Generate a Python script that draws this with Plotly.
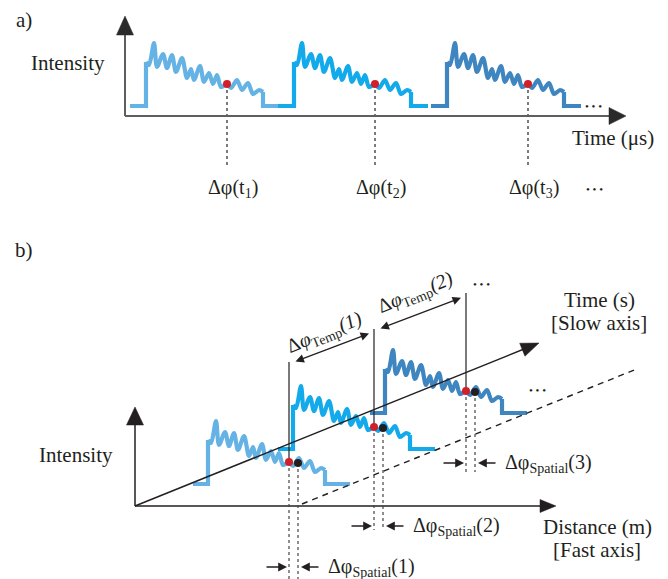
import math
import plotly.graph_objects as go

# ------------------------------------------------------------------
# Data
# ------------------------------------------------------------------
# one backscattered pulse: time inside the pulse (px-units) and intensity
pulse_t = [0, 3, 8, 11, 17, 21, 26, 30, 36, 41, 45, 48, 54, 58, 63, 67, 71, 75,
           81, 85, 91, 96, 102, 107, 113, 117]
pulse_I = [44, 41, 63, 39, 52, 38, 51, 34, 48, 28, 37, 26, 40, 24, 33, 22, 31, 19,
           22, 18, 26, 16, 23, 12, 16, 14]
# phase sampling points on the pulse (reference point, and shifted point)
ref_t, ref_I = 81, 22
shift_t, shift_I = 90, 21

pulse_names = ["Pulse 1", "Pulse 2", "Pulse 3"]
a_labels = ["Δφ(t<sub>1</sub>)", "Δφ(t<sub>2</sub>)", "Δφ(t<sub>3</sub>)"]
temp_labels = ["Δ<i>φ</i><sub>Temp</sub><i>(1)</i>", "Δ<i>φ</i><sub>Temp</sub><i>(2)</i>"]
spatial_labels = ["Δφ<sub>Spatial</sub>(1)", "Δφ<sub>Spatial</sub>(2)", "Δφ<sub>Spatial</sub>(3)"]

# ------------------------------------------------------------------
# Layout geometry / styles
# ------------------------------------------------------------------
W, H = 668, 579
FONT = "Liberation Serif, Times New Roman, serif"
TXT = "#231f20"
pulse_colors = ["#65b2e5", "#12aaea", "#3f86c0"]
RED = "#d0202a"
BLK = "#231f20"

# panel a)
A_ORIGIN = (125, 116)
A_XTIP, A_YTIP = 626, 16
A_RISE_X = [146, 294, 447]
A_BASE_Y = 106
A_LEAD, A_TRAIL = 16, 134
A_DOT_BOTTOM = 165
A_LABEL_Y = 188

# panel b)
B_ORIGIN = (135, 506)
B_ITIP = (135, 407)
B_DTIP = (556, 506)
B_TTIP = (539, 343)
B_RISE_X = [208, 293, 385]
B_BASE_Y = [484, 449, 413]
B_LEAD, B_TRAIL = 15, 142
B_VTOP = [362, 329, 293]
B_DOT_BOTTOM = [579, 530, 472]
B_SPATIAL_Y = [567, 526, 463]
B_TEMP_LABEL = [(324, 333), (415, 293)]

fig = go.Figure()
shapes = []
annotations = []


def line(xs, ys, color, width, dash=None, shape="linear"):
    fig.add_trace(go.Scatter(x=xs, y=ys, mode="lines",
                             line=dict(color=color, width=width, dash=dash, shape=shape,
                                       smoothing=0.85 if shape == "spline" else None),
                             hoverinfo="skip", showlegend=False))


def arrow_head(tip, tail, length, width, color):
    dx, dy = tip[0] - tail[0], tip[1] - tail[1]
    n = math.hypot(dx, dy)
    ux, uy = dx / n, dy / n
    bx, by = tip[0] - ux * length, tip[1] - uy * length
    px, py = -uy * width / 2, ux * width / 2
    path = (f"M {tip[0]} {tip[1]} L {bx + px} {by + py} L {bx - px} {by - py} Z")
    shapes.append(dict(type="path", path=path, xref="x", yref="y",
                       fillcolor=color, line=dict(color=color, width=0.5), layer="above"))


def axis(origin, tip, color, width, hl, hw, head_color=None):
    n = math.hypot(tip[0] - origin[0], tip[1] - origin[1])
    ux, uy = (tip[0] - origin[0]) / n, (tip[1] - origin[1]) / n
    end = (tip[0] - ux * hl * 0.6, tip[1] - uy * hl * 0.6)
    line([origin[0], end[0]], [origin[1], end[1]], color, width)
    arrow_head(tip, origin, hl, hw, head_color or color)


def pulse(x0, y0, lead, trail, color):
    line([x0 - lead, x0, x0], [y0, y0, y0 - pulse_I[0]], color, 4.2)
    line([x0 + t for t in pulse_t], [y0 - v for v in pulse_I], color, 4.2, shape="spline")
    te = x0 + pulse_t[-1]
    line([te, te, x0 + trail], [y0 - pulse_I[-1], y0, y0], color, 4.2)


def text(x, y, s, size=20, xanchor="center", angle=0):
    annotations.append(dict(x=x, y=y, xref="x", yref="y", text=s, showarrow=False,
                            xanchor=xanchor, yanchor="middle", textangle=angle,
                            font=dict(family=FONT, size=size, color=TXT)))


def arrow(x0, y0, x1, y1, both=False, size=1.0, width=1.3):
    annotations.append(dict(x=x1, y=y1, ax=x0, ay=y0, xref="x", yref="y", axref="x", ayref="y",
                            text="", showarrow=True, arrowhead=2, arrowsize=size,
                            arrowwidth=width, arrowcolor=TXT,
                            arrowside="end+start" if both else "end"))


# ------------------------------ panel a) ------------------------------
for i, (xr, col) in enumerate(zip(A_RISE_X, pulse_colors)):
    pulse(xr, A_BASE_Y, A_LEAD, A_TRAIL, col)
for i, xr in enumerate(A_RISE_X):
    dx, dy = xr + ref_t, A_BASE_Y - ref_I
    line([dx, dx], [dy, A_DOT_BOTTOM], "#444444", 1.4, dash="dot")
axis(A_ORIGIN, (A_ORIGIN[0], A_YTIP), "#5f5f5f", 2, 19, 17, head_color="#2a2a2a")
axis(A_ORIGIN, (A_XTIP, A_ORIGIN[1]), "#5f5f5f", 2, 17, 17, head_color="#2a2a2a")
fig.add_trace(go.Scatter(x=[xr + ref_t for xr in A_RISE_X], y=[A_BASE_Y - ref_I] * 3,
                         mode="markers", marker=dict(color=RED, size=8),
                         hoverinfo="skip", showlegend=False))
for xr, lab in zip(A_RISE_X, a_labels):
    text(xr + ref_t + 6, A_LABEL_Y, lab)
text(594, A_LABEL_Y + 1, "• • •", size=11)
text(593, A_BASE_Y, "• • •", size=11)
text(24, 20, "a)", size=21)
text(68, 63, "Intensity", size=21)
text(613, 138, "Time (μs)", size=21)

# ------------------------------ panel b) ------------------------------
for xr, yb, col in zip(B_RISE_X, B_BASE_Y, pulse_colors):
    pulse(xr, yb, B_LEAD, B_TRAIL, col)

# axes
axis(B_ORIGIN, B_ITIP, BLK, 1.5, 18, 17)
axis(B_ORIGIN, B_DTIP, BLK, 1.5, 16, 13)
axis(B_ORIGIN, B_TTIP, BLK, 1.5, 18, 14)
slope = (B_TTIP[1] - B_ORIGIN[1]) / (B_TTIP[0] - B_ORIGIN[0])
dash_x0, dash_x1 = 302, 634
line([dash_x0, dash_x1], [504, 504 + slope * (dash_x1 - dash_x0)], BLK, 1.4, dash="6px,5px")

# vertical reference lines and dotted projections
for xr, yb, top, bot in zip(B_RISE_X, B_BASE_Y, B_VTOP, B_DOT_BOTTOM):
    rx, ry = xr + ref_t, yb - ref_I
    sx, sy = xr + shift_t, yb - shift_I
    line([rx, rx], [top, ry], BLK, 1.2)
    line([rx, rx], [ry, bot], "#444444", 1.2, dash="dot")
    line([sx, sx], [sy, bot], "#444444", 1.2, dash="dot")

fig.add_trace(go.Scatter(x=[xr + ref_t for xr in B_RISE_X],
                         y=[yb - ref_I for yb in B_BASE_Y],
                         mode="markers", marker=dict(color=RED, size=8),
                         hoverinfo="skip", showlegend=False))
fig.add_trace(go.Scatter(x=[xr + shift_t for xr in B_RISE_X],
                         y=[yb - shift_I for yb in B_BASE_Y],
                         mode="markers", marker=dict(color=BLK, size=8),
                         hoverinfo="skip", showlegend=False))

# temporal phase arrows
tslope = -0.38
for i in range(2):
    x0 = B_RISE_X[i] + ref_t + 5
    x1 = B_RISE_X[i + 1] + ref_t - 5
    y0 = B_VTOP[i]
    y1 = y0 + tslope * (x1 - x0)
    arrow(x0, y0, x1, y1, both=True, size=1.3, width=1.3)
    text(B_TEMP_LABEL[i][0], B_TEMP_LABEL[i][1], temp_labels[i], angle=-22)

# spatial phase arrows
for xr, y, lab in zip(B_RISE_X, B_SPATIAL_Y, spatial_labels):
    rx, sx = xr + ref_t, xr + shift_t
    arrow(rx - 24, y, rx - 2, y, size=1.1, width=1.6)
    arrow(sx + 22, y, sx + 3, y, size=1.1, width=1.6)
    text(sx + 28, y, lab, xanchor="left")

text(481, 284, "• • •", size=11)
text(537, 390, "• • •", size=11)
text(24, 250, "b)", size=21)
text(76, 455, "Intensity", size=21)
text(599, 300, "Time (s)", size=21)
text(599, 323, "[Slow axis]", size=21)
text(597, 527, "Distance (m)", size=21)
text(597, 550, "[Fast axis]", size=21)

fig.update_layout(
    width=W, height=H, margin=dict(l=0, r=0, t=0, b=0),
    paper_bgcolor="white", plot_bgcolor="white", showlegend=False,
    xaxis=dict(range=[0, W], visible=False, fixedrange=True),
    yaxis=dict(range=[H, 0], visible=False, fixedrange=True),
    shapes=shapes, annotations=annotations,
)
fig.write_html("out.html", post_script="document.body.style.margin='0';",
               config={"displayModeBar": False})
